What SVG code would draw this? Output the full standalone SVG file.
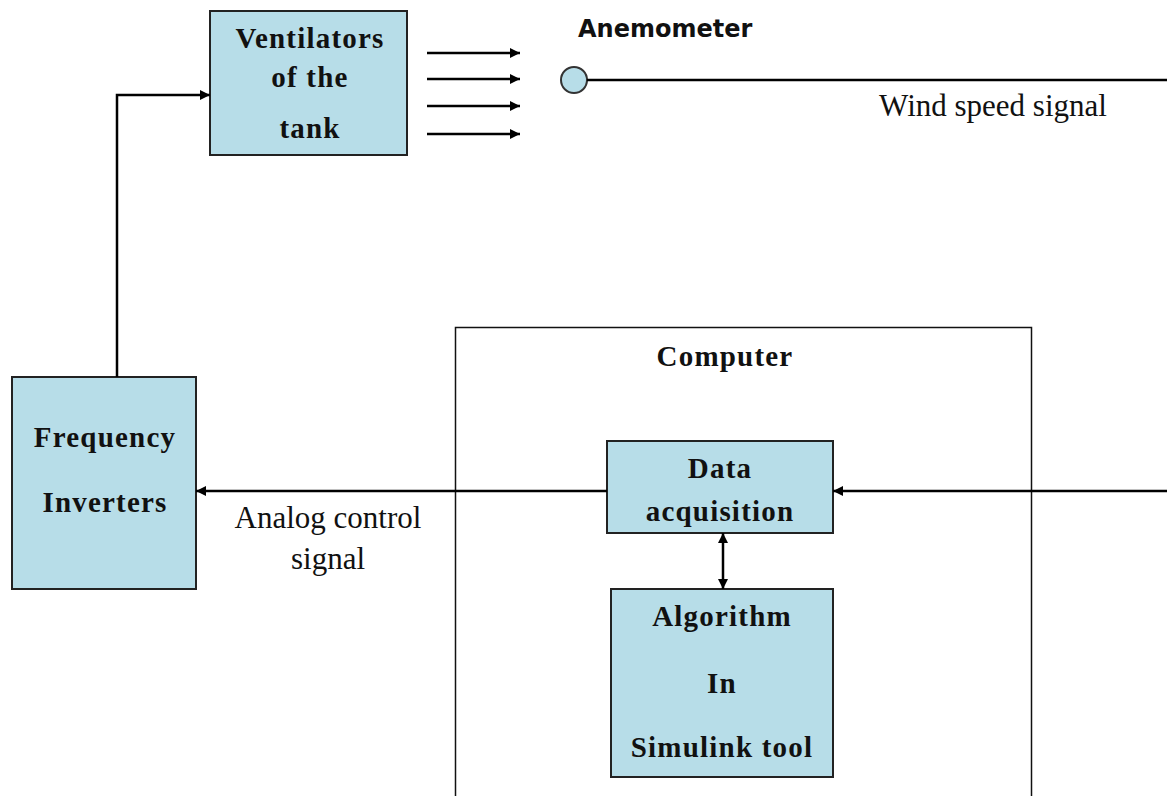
<svg xmlns="http://www.w3.org/2000/svg" width="1167" height="796" viewBox="0 0 1167 796">
<defs>
<marker id="ah" viewBox="0 0 10 10" refX="10" refY="5" markerWidth="10" markerHeight="10" markerUnits="userSpaceOnUse" orient="auto-start-reverse"><path d="M0,0 L10,5 L0,10 z" fill="#000"/></marker>
<style>
.box{fill:#b7dde8;stroke:#222;stroke-width:2}
.lbl{font-family:"Liberation Serif",serif;font-weight:bold;font-size:29px;letter-spacing:1.2px;fill:#111;text-anchor:middle}
.sig{font-family:"Liberation Serif",serif;font-size:31px;fill:#111;text-anchor:middle}
.ln{fill:none;stroke:#000;stroke-width:2.5}
</style>
</defs>
<rect width="1167" height="796" fill="#fff"/>
<g id="computer">
<rect x="455.5" y="327.5" width="576" height="480" fill="none" stroke="#111" stroke-width="1.5"/>
<text class="lbl" x="725" y="366" letter-spacing="1.6">Computer</text>
</g>
<g id="ventilators">
<rect class="box" x="210" y="11" width="197" height="144"/>
<text class="lbl" x="310" y="48">Ventilators</text>
<text class="lbl" x="310" y="87">of the</text>
<text class="lbl" x="310" y="138">tank</text>
</g>
<g id="anemometer">
<circle cx="574" cy="80" r="13" fill="#b7dde8" stroke="#333" stroke-width="2"/>
<text x="578" y="37" font-family="'DejaVu Sans',sans-serif" font-weight="bold" font-size="24" fill="#111">Anemometer</text>
</g>
<g id="inverters">
<rect class="box" x="12" y="377" width="184" height="212"/>
<text class="lbl" x="105" y="447" letter-spacing="1.5">Frequency</text>
<text class="lbl" x="105" y="512" letter-spacing="1.5">Inverters</text>
</g>
<g id="daq">
<rect class="box" x="607" y="441" width="226" height="92"/>
<text class="lbl" x="720" y="478" letter-spacing="0.9">Data</text>
<text class="lbl" x="720" y="521" letter-spacing="0.9">acquisition</text>
</g>
<g id="algorithm">
<rect class="box" x="611" y="589" width="222" height="188"/>
<text class="lbl" x="722" y="626">Algorithm</text>
<text class="lbl" x="722" y="693">In</text>
<text class="lbl" x="722" y="757" letter-spacing="1">Simulink tool</text>
</g>
<g id="connectors">
<path class="ln" d="M427,53 H520" marker-end="url(#ah)"/>
<path class="ln" d="M427,79 H520" marker-end="url(#ah)"/>
<path class="ln" d="M427,106 H520" marker-end="url(#ah)"/>
<path class="ln" d="M427,134 H520" marker-end="url(#ah)"/>
<path class="ln" d="M587,80 H1167" stroke-width="3"/>
<path class="ln" d="M117,377 V95 H210" marker-end="url(#ah)"/>
<path class="ln" d="M1167,491 H833" marker-end="url(#ah)"/>
<path class="ln" d="M607,491 H196" marker-end="url(#ah)"/>
<path class="ln" d="M723,589 V533" marker-start="url(#ah)" marker-end="url(#ah)"/>
</g>
<text class="sig" x="993" y="116">Wind speed signal</text>
<text class="sig" x="328" y="528">Analog control</text>
<text class="sig" x="328" y="569">signal</text>
</svg>
